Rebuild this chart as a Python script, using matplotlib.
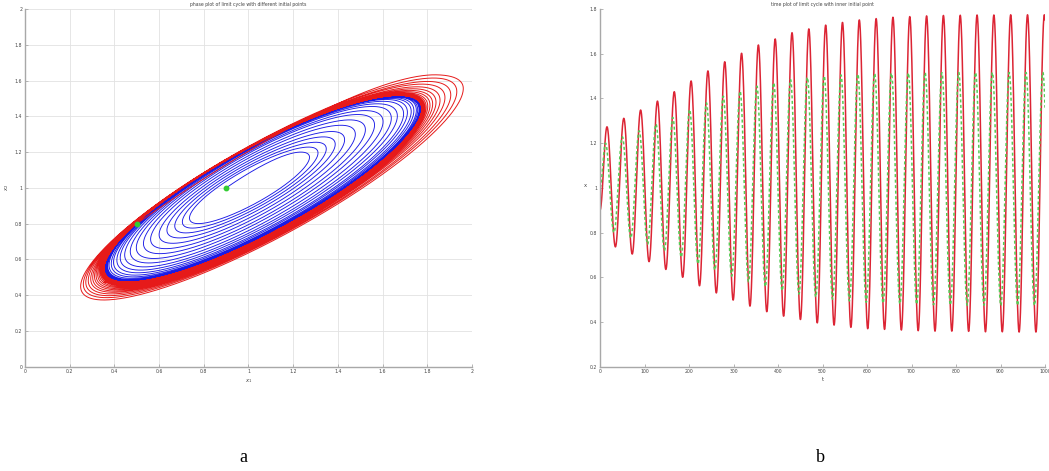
import numpy as np
import matplotlib
matplotlib.use("Agg")
import matplotlib.pyplot as plt

# ---------------- data ----------------
# time plot (inner initial point): extremes of each oscillation cycle
x1_peaks = [1.273, 1.311, 1.348, 1.388, 1.430, 1.478, 1.523, 1.564, 1.602, 1.639,
            1.666, 1.694, 1.711, 1.728, 1.740, 1.751, 1.757, 1.763, 1.766, 1.769,
            1.771, 1.772, 1.773, 1.773, 1.774, 1.774, 1.774]
x1_troughs = [0.736, 0.704, 0.670, 0.635, 0.600, 0.562, 0.530, 0.498, 0.471, 0.446,
              0.426, 0.411, 0.396, 0.386, 0.376, 0.370, 0.367, 0.364, 0.361, 0.359,
              0.359, 0.358, 0.356, 0.356, 0.355, 0.355, 0.355]
x2_peaks = [1.200, 1.228, 1.255, 1.285, 1.315, 1.350, 1.380, 1.410, 1.432, 1.455,
            1.470, 1.484, 1.494, 1.500, 1.505, 1.509, 1.511, 1.513, 1.514, 1.515,
            1.515, 1.516, 1.516, 1.516, 1.516, 1.516, 1.516]
x2_troughs = [0.800, 0.775, 0.748, 0.720, 0.690, 0.660, 0.632, 0.605, 0.580, 0.558,
              0.540, 0.525, 0.512, 0.502, 0.494, 0.488, 0.484, 0.481, 0.479, 0.477,
              0.476, 0.475, 0.475, 0.474, 0.474, 0.474, 0.474]
inner_start = (0.9, 1.0)
inner_lead = [3.3] * len(x1_peaks)      # x2 leads x1 by this many time units

# phase plot (outer initial point): extremes of each loop of the red trajectory
out_x1_max = [1.961, 1.932, 1.905, 1.879, 1.857, 1.839, 1.824, 1.812, 1.802, 1.795,
              1.790, 1.786, 1.783, 1.781, 1.780, 1.779, 1.778, 1.778, 1.777, 1.777,
              1.777, 1.776, 1.776, 1.776, 1.776, 1.776, 1.776, 1.776, 1.776, 1.776]
out_x1_min = [0.249, 0.261, 0.272, 0.283, 0.294, 0.303, 0.311, 0.318, 0.325, 0.331,
              0.336, 0.340, 0.343, 0.345, 0.347, 0.348, 0.349, 0.350, 0.351, 0.351,
              0.352, 0.352, 0.352, 0.353, 0.353, 0.353, 0.353, 0.353, 0.353, 0.353]
out_x2_max = [1.632, 1.614, 1.595, 1.580, 1.565, 1.554, 1.545, 1.538, 1.532, 1.528,
              1.525, 1.523, 1.521, 1.520, 1.519, 1.519, 1.518, 1.518, 1.518, 1.518,
              1.518, 1.518, 1.518, 1.518, 1.518, 1.518, 1.518, 1.518, 1.518, 1.518]
out_x2_min = [0.373, 0.386, 0.397, 0.407, 0.416, 0.423, 0.430, 0.436, 0.442, 0.447,
              0.452, 0.456, 0.459, 0.462, 0.464, 0.466, 0.467, 0.468, 0.469, 0.470,
              0.470, 0.471, 0.471, 0.471, 0.472, 0.472, 0.472, 0.472, 0.472, 0.472]
outer_lead = [3.00, 3.03, 3.06, 3.09, 3.12, 3.15, 3.18, 3.20, 3.22, 3.24,
              3.26, 3.27, 3.28, 3.29, 3.30, 3.30, 3.30, 3.30, 3.30, 3.30,
              3.30, 3.30, 3.30, 3.30, 3.30, 3.30, 3.30, 3.30, 3.30, 3.30]
outer_start = (0.5, 0.8)

period = 37.8          # time units per oscillation
first_peak_t = 15.7    # time of first x1 maximum


# ---------------- helpers ----------------
def interleave(a, b):
    out = []
    for p, q in zip(a, b):
        out += [p, q]
    return out


def wave(t, kt, kv):
    kt = np.asarray(kt, float)
    kv = np.asarray(kv, float)
    i = np.clip(np.searchsorted(kt, t, side="right") - 1, 0, len(kt) - 2)
    s = np.clip((t - kt[i]) / (kt[i + 1] - kt[i]), 0, 1)
    return kv[i] + (kv[i + 1] - kv[i]) * (1 - np.cos(np.pi * s)) / 2


def trajectory(start, hi1, lo1, hi2, lo2, lead, t_first, t_end, n=40000):
    m = len(hi1)
    ext_t = t_first + 0.5 * period * np.arange(2 * m)
    lead2 = np.repeat(np.asarray(lead, float), 2)
    k1_t = np.concatenate([[0.0], ext_t])
    k1_v = [start[0]] + interleave(hi1, lo1)
    k2_t = np.concatenate([[0.0], ext_t - lead2])
    k2_v = [start[1]] + interleave(hi2, lo2)
    t = np.linspace(0, t_end, n)
    return t, wave(t, k1_t, k1_v), wave(t, k2_t, k2_v)


t_in, x1_in, x2_in = trajectory(inner_start, x1_peaks, x1_troughs, x2_peaks, x2_troughs,
                                inner_lead, first_peak_t, 1000)
n_out = len(out_x1_max)
t_out, x1_out, x2_out = trajectory(outer_start, out_x1_max, out_x1_min, out_x2_max, out_x2_min,
                                   outer_lead, 15.7, 15.7 + period * (n_out - 0.5))

# ---------------- figure ----------------
W, H = 1049, 471
fig = plt.figure(figsize=(W / 100, H / 100), dpi=100)
fs = 3.3


def style(ax):
    for s in ("top", "right"):
        ax.spines[s].set_visible(False)
    for s in ("left", "bottom"):
        ax.spines[s].set_color("#a8a8a8")
        ax.spines[s].set_linewidth(1.0)
    ax.tick_params(direction="in", length=2.5, width=0.6, colors="#a8a8a8",
                   labelsize=fs, labelcolor="#444444", pad=2)


def fmt(v):
    return ("%.1f" % v).rstrip("0").rstrip(".")


# left: phase plot
axL = fig.add_axes([25 / W, 1 - 366.7 / H, 447 / W, 357.7 / H])
axL.plot(x1_in, x2_in, color="#1a1ae6", lw=0.65)
axL.plot(x1_out, x2_out, color="#e61a1a", lw=0.7)
axL.plot([inner_start[0], outer_start[0]], [inner_start[1], outer_start[1]], "o",
         color="#33cc33", ms=3.2, mec="#33cc33", zorder=5)
axL.set_xlim(0, 2)
axL.set_ylim(0, 2)
ticks = np.round(np.arange(0, 2.01, 0.2), 1)
axL.set_xticks(ticks)
axL.set_yticks(ticks)
axL.set_xticklabels([fmt(v) for v in ticks])
axL.set_yticklabels([fmt(v) for v in ticks])
axL.grid(True, color="#e2e2e2", lw=0.6)
axL.set_axisbelow(True)
style(axL)
axL.set_title("phase plot of limit cycle with different initial points", fontsize=fs, pad=2,
              color="#444444")
axL.set_xlabel("$x_1$", fontsize=fs + 0.5, labelpad=2, color="#444444")
axL.set_ylabel("$x_2$", fontsize=fs + 0.5, labelpad=3, color="#444444")

# right: time plot
axR = fig.add_axes([600 / W, 1 - 366.7 / H, 445 / W, 357.7 / H])
axR.plot(t_in, x1_in, color="#dc2434", lw=1.1)
axR.plot(t_in, x2_in, color="#55cc55", lw=1.1, ls=(0, (2.0, 1.6)))
axR.set_xlim(0, 1000)
axR.set_ylim(0.2, 1.8)
xt = np.arange(0, 1001, 100)
axR.set_xticks(xt)
axR.set_xticklabels([str(v) for v in xt])
yt = np.round(np.arange(0.2, 1.81, 0.2), 1)
axR.set_yticks(yt)
axR.set_yticklabels([fmt(v) for v in yt])
style(axR)
axR.set_title("time plot of limit cycle with inner initial point", fontsize=fs, pad=2,
              color="#444444")
axR.set_xlabel("t", fontsize=fs + 0.5, labelpad=2, color="#444444")
axR.set_ylabel("x", fontsize=fs + 0.5, labelpad=3, color="#444444", rotation=0)

fig.text(243 / W, 1 - 458 / H, "a", fontsize=13, family="Liberation Serif",
         ha="center", va="center")
fig.text(820 / W, 1 - 458 / H, "b", fontsize=13, family="Liberation Serif",
         ha="center", va="center")

fig.savefig("out.png", dpi=100)
